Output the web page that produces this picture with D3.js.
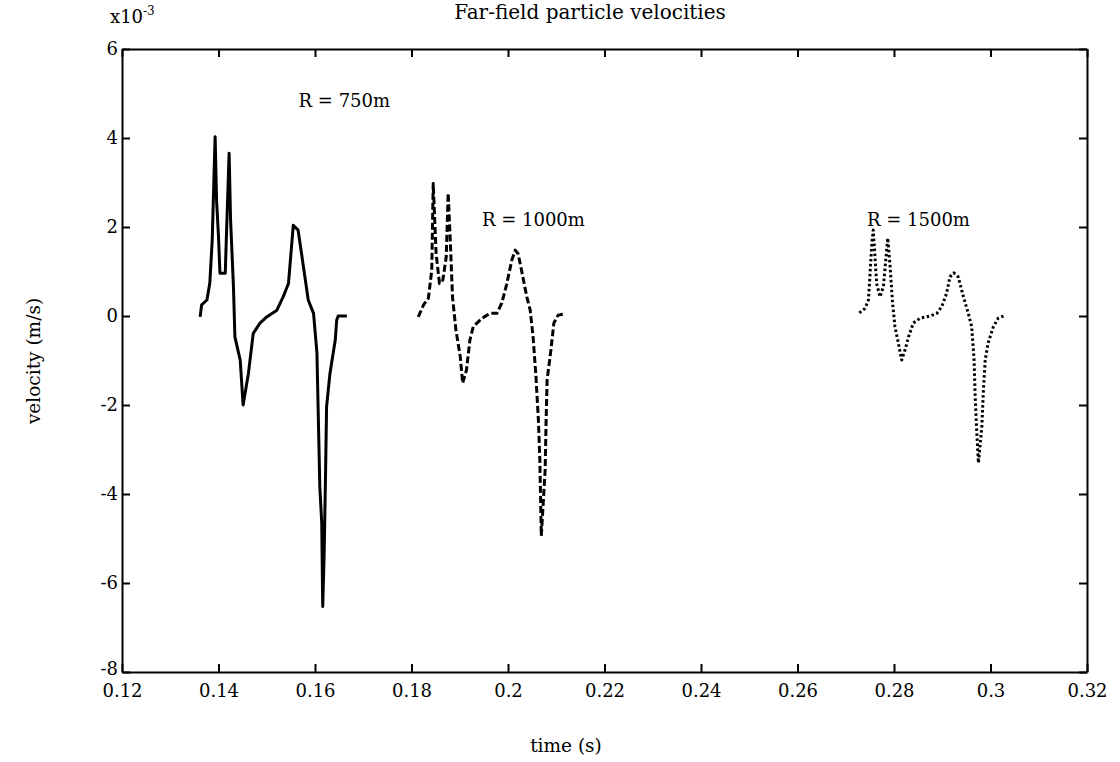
<!DOCTYPE html>
<html>
    <head>
        <meta charset="utf-8">
        <title>Far-field particle velocities</title>
        <script src="https://d3js.org/d3.v7.min.js"></script>
        <style>
        body {
            margin: 0;
            background-color: white;
        }
        text {
            font-family: "DejaVu Serif", "Liberation Serif", serif;
            fill: black;
        }
        </style>
    </head>
    <body>
        <svg id="myCanvas" width="1120" height="762"></svg>

        <script>
            // time (s) and velocity (x10^-3 m/s)
            var t750 = [0.1362,0.1365,0.1376,0.1382,0.1387,0.1393,0.1396,0.1400,0.1403,0.1414,0.1417,0.1422,0.1425,0.1431,0.1434,0.1445,0.1451,0.1462,0.1472,0.1486,0.1500,0.1521,0.1534,0.1545,0.1555,0.1565,0.1576,0.1586,0.1597,0.1604,0.1607,0.1610,0.1614,0.1616,0.1619,0.1622,0.1624,0.1631,0.1642,0.1645,0.1648,0.1666];
            var v750 = [-0.02,0.25,0.36,0.74,1.71,4.03,2.6,1.78,0.96,0.96,2.0,3.66,2.16,0.66,-0.47,-0.99,-2.0,-1.29,-0.39,-0.16,-0.02,0.13,0.43,0.73,2.04,1.93,1.11,0.36,0.06,-0.83,-2.34,-3.84,-4.66,-6.53,-5.33,-3.46,-2.04,-1.29,-0.54,-0.09,0,0];

            var t1000 = [0.1814,0.1825,0.1835,0.1842,0.1845,0.1851,0.1858,0.1865,0.1872,0.1876,0.1880,0.1885,0.1892,0.1901,0.1906,0.1914,0.1921,0.1928,0.1946,0.1963,0.1977,0.1987,0.1997,0.2008,0.2015,0.2021,0.2028,0.2039,0.2046,0.2052,0.2058,0.2063,0.2066,0.2069,0.2077,0.2079,0.2081,0.2089,0.2095,0.2104,0.2115];
            var v1000 = [-0.02,0.25,0.4,1.03,2.98,1.4,0.73,0.81,1.33,2.76,1.78,0.43,-0.31,-0.91,-1.51,-1.21,-0.54,-0.24,-0.05,0.06,0.06,0.29,0.70,1.26,1.48,1.4,1.03,0.43,0.13,-0.47,-1.37,-2.34,-3.24,-4.94,-3.46,-2.34,-1.44,-0.76,-0.16,0.02,0.04];

            var t1500 = [0.2728,0.2740,0.2747,0.2750,0.2754,0.2757,0.2761,0.2764,0.2771,0.2778,0.2783,0.2787,0.2792,0.2797,0.2802,0.2809,0.2816,0.2823,0.2830,0.2840,0.2854,0.2875,0.2889,0.2899,0.2909,0.2916,0.2924,0.2933,0.2944,0.2954,0.2961,0.2966,0.2968,0.2971,0.2975,0.2982,0.2985,0.2989,0.2995,0.3006,0.3016,0.3027];
            var v1500 = [0.07,0.17,0.36,0.88,1.63,1.93,1.26,0.73,0.43,0.66,1.26,1.75,1.11,0.29,-0.24,-0.61,-0.99,-0.76,-0.47,-0.16,-0.05,0.0,0.06,0.21,0.51,0.88,0.97,0.88,0.43,0.06,-0.24,-0.99,-1.74,-2.49,-3.30,-2.49,-1.74,-0.99,-0.61,-0.24,-0.05,0.0];

            var xTicks = [0.12,0.14,0.16,0.18,0.2,0.22,0.24,0.26,0.28,0.3,0.32];
            var yTicks = [-8,-6,-4,-2,0,2,4,6];

            var labels = ["R = 750m", "R = 1000m", "R = 1500m"];
            var labelT = [0.1566, 0.1946, 0.2744];
            var labelV = [4.70, 2.02, 2.02];

            var series = [
                {t: t750, v: v750, dash: null},
                {t: t1000, v: v1000, dash: "7,3"},
                {t: t1500, v: v1500, dash: "2.5,2.5"}
            ];

            var pLeft = 122, pRight = 1087, pTop = 49, pBottom = 672;
            var svg = d3.select("#myCanvas");

            var x = d3.scaleLinear([0.12, 0.32], [pLeft, pRight]);
            var y = d3.scaleLinear([-8, 6], [pBottom, pTop]);

            function drawAxes() {
                var tick = 8;
                var xb = svg.append("g")
                    .attr("transform", "translate(0," + pBottom + ")")
                    .call(d3.axisBottom(x).tickValues(xTicks).tickSizeInner(-tick).tickSizeOuter(0).tickPadding(6)
                        .tickFormat(d => String(+d.toFixed(2))));
                svg.append("g")
                    .attr("transform", "translate(0," + pTop + ")")
                    .call(d3.axisTop(x).tickValues(xTicks).tickSizeInner(-tick).tickSizeOuter(0).tickFormat(""));
                var yl = svg.append("g")
                    .attr("transform", "translate(" + pLeft + ",0)")
                    .call(d3.axisLeft(y).tickValues(yTicks).tickSizeInner(-tick).tickSizeOuter(0).tickPadding(4)
                        .tickFormat(d => String(d)));
                svg.append("g")
                    .attr("transform", "translate(" + pRight + ",0)")
                    .call(d3.axisRight(y).tickValues(yTicks).tickSizeInner(-tick).tickSizeOuter(0).tickFormat(""));

                svg.selectAll(".domain").attr("stroke", "black").attr("stroke-width", 2);
                svg.selectAll(".tick line").attr("stroke", "black").attr("stroke-width", 2);
                svg.selectAll(".tick text")
                    .attr("font-family", "DejaVu Serif, serif")
                    .attr("font-size", 18)
                    .attr("fill", "black");
                xb.selectAll(".tick text").attr("dy", "1.05em");
                // lowest label sits a bit higher, clear of 0.12
                yl.selectAll(".tick text").filter(d => d == -8).attr("dy", "0.15em");
            }

            function drawLines() {
                var line = d3.line();
                series.forEach(function(s) {
                    svg.append("path")
                        .datum(s.t.map((d, i) => [x(d), y(s.v[i])]))
                        .attr("d", line)
                        .attr("fill", "none")
                        .attr("stroke", "black")
                        .attr("stroke-width", 3)
                        .attr("stroke-linejoin", "round")
                        .attr("stroke-dasharray", s.dash);
                });

                svg.selectAll(".rlabel")
                    .data(labels)
                    .join("text")
                    .attr("class", "rlabel")
                    .attr("x", (d, i) => x(labelT[i]))
                    .attr("y", (d, i) => y(labelV[i]))
                    .attr("font-size", 18)
                    .text(d => d);
            }

            function drawText() {
                svg.append("text")
                    .attr("x", 590).attr("y", 19)
                    .attr("text-anchor", "middle")
                    .attr("font-size", 20)
                    .text("Far-field particle velocities");

                var exp = svg.append("text")
                    .attr("x", pLeft - 12).attr("y", 23)
                    .attr("font-size", 18);
                exp.append("tspan").text("x10");
                exp.append("tspan").attr("dy", -8).attr("font-size", 12).text("-3");

                svg.append("text")
                    .attr("x", 566).attr("y", 752)
                    .attr("text-anchor", "middle")
                    .attr("font-size", 18.5)
                    .text("time (s)");

                svg.append("text")
                    .attr("transform", "translate(40," + 361 + ") rotate(-90)")
                    .attr("text-anchor", "middle")
                    .attr("font-size", 18.5)
                    .text("velocity (m/s)");
            }

            drawAxes();
            drawLines();
            drawText();
        </script>
    </body>
</html>
